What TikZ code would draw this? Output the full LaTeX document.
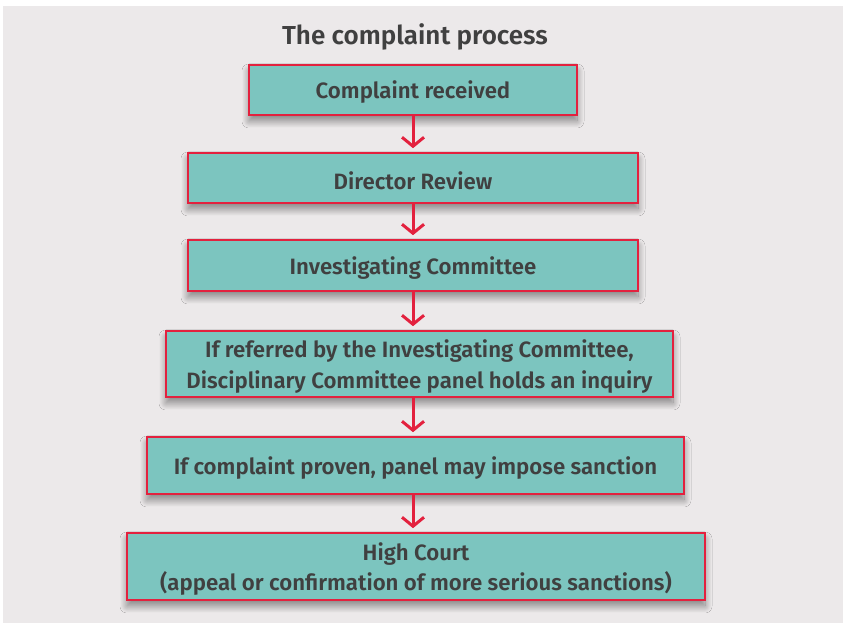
\documentclass[tikz,border=0pt]{standalone}
\usepackage{fontspec}
\setmainfont{Fira Sans SemiBold}
\usetikzlibrary{arrows.meta,shadows.blur}
\definecolor{bgc}{HTML}{ECE9EA}
\definecolor{boxfill}{HTML}{7CC5BF}
\definecolor{boxline}{HTML}{E3213E}
\definecolor{txt}{HTML}{404040}
\newcommand{\lowtxt}[1]{\raisebox{-2.5pt}[\height][\depth]{#1}}
\tikzset{
  stepbox/.style={draw=boxline, line width=1.6pt, fill=boxfill, text=txt,
    inner sep=0pt, align=center, font=\fontsize{22.2}{30.5}\selectfont,
    blur shadow={shadow xshift=0pt, shadow yshift=-6pt, shadow blur radius=7pt, shadow opacity=45, shadow blur steps=25}},
  flowarr/.style={draw=boxline, line width=3pt,
    -{Straight Barb[length=9pt,width=22pt,line width=3pt]}, shorten >=4pt}
}
\begin{document}
\begin{tikzpicture}[x=1pt,y=1pt]
\useasboundingbox (0,0) rectangle (843,623);
\fill[bgc] (3,0) rectangle (843,617);
\node[text=txt, font=\fontsize{26}{30}\selectfont] (title) at (415,586) {The complaint process};
\node[stepbox, minimum width=328pt, minimum height=50pt] (b1) at (413,533) {\lowtxt{Complaint received}};
\node[stepbox, minimum width=450pt, minimum height=50pt] (b2) at (413,445) {\lowtxt{Director Review}};
\node[stepbox, minimum width=450pt, minimum height=51pt] (b3) at (413,357.5) {\lowtxt{Investigating Committee}};
\node[stepbox, minimum width=507pt, minimum height=66pt] (b4) at (419.5,259) {\lowtxt{If referred by the Investigating Committee,}\\\lowtxt{Disciplinary Committee panel holds an inquiry}};
\node[stepbox, minimum width=537pt, minimum height=57pt] (b5) at (415.5,157.5) {\lowtxt{If complaint proven, panel may impose sanction}};
\node[stepbox, minimum width=578pt, minimum height=67pt] (b6) at (416,56.5) {\lowtxt{High Court}\\\lowtxt{(appeal or confirmation of more serious sanctions)}};
\draw[flowarr] (b1.south) -- (b2.north);
\draw[flowarr] (b2.south) -- (b3.north);
\draw[flowarr] (b3.south) -- (b3.south |- b4.north);
\draw[flowarr] (b4.south -| b3.south) -- (b3.south |- b5.north);
\draw[flowarr] (b5.south -| b3.south) -- (b3.south |- b6.north);
\end{tikzpicture}
\end{document}
